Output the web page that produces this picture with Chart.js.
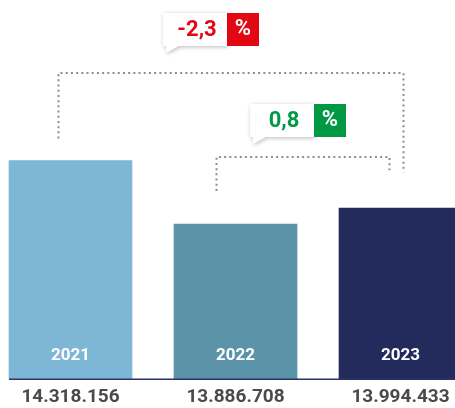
<!DOCTYPE html>
<html>
<head>
<meta charset="utf-8">
<script src="https://cdn.jsdelivr.net/npm/chart.js@4.4.0/dist/chart.umd.min.js"></script>
<style>
  html, body { margin: 0; padding: 0; background: #fff; overflow: hidden; width: 455px; height: 408px; }
  #chart { position: absolute; left: -12px; top: 0; }
</style>
</head>
<body>
<canvas id="chart" width="495" height="416"></canvas>
<script>
const years = ['2021', '2022', '2023']
const values = [14318156, 13886708, 13994433]
const valueLabels = ['14.318.156', '13.886.708', '13.994.433']
const barColors = ['#7EB6D6', '#5B93A8', '#222B5C']

// changes shown on top: [from bar, to bar, text, colour]
const changes = [
    { from: 0, to: 2, text: '-2,3', color: '#E30613' },
    { from: 1, to: 2, text: '0,8', color: '#009A44' }
]

const fontFamily = 'Roboto, "Liberation Sans", sans-serif'

const overlay = {
    id: 'overlay',
    afterDatasetsDraw(chart) {
        const ctx = chart.ctx
        const bars = chart.getDatasetMeta(0).data
        const bottom = chart.chartArea.bottom

        // base line
        ctx.save()
        ctx.strokeStyle = '#2A3566'
        ctx.lineWidth = 1.5
        ctx.beginPath()
        ctx.moveTo(bars[0].x - bars[0].width / 2, bottom)
        ctx.lineTo(chart.width, bottom)
        ctx.stroke()

        // years inside the bars
        ctx.fillStyle = '#fff'
        ctx.font = 'bold 17px ' + fontFamily
        ctx.textAlign = 'center'
        ctx.textBaseline = 'middle'
        bars.forEach((bar, i) => {
            ctx.fillText(years[i], bar.x, bottom - 23)
        })

        // dotted brackets
        ctx.strokeStyle = '#8c8c8c'
        ctx.lineWidth = 2
        ctx.setLineDash([2, 3.2])
        const brackets = [
            { x1: bars[0].x - 12, y1: bars[0].y - 22, x2: bars[2].x + 3, y2: bars[2].y - 36, top: 73 },
            { x1: bars[1].x - 19, y1: bars[1].y - 33, x2: bars[2].x - 11, y2: bars[2].y - 38, top: 157 }
        ]
        brackets.forEach(b => {
            ctx.beginPath()
            ctx.moveTo(b.x1, b.y1)
            ctx.lineTo(b.x1, b.top)
            ctx.lineTo(b.x2, b.top)
            ctx.lineTo(b.x2, b.y2)
            ctx.stroke()
        })
        ctx.setLineDash([])

        // change labels
        const boxes = [
            { left: 175, top: 13 },
            { left: 262, top: 104 }
        ]
        changes.forEach((c, i) => {
            const b = boxes[i]
            const w = 64, pw = 32, h = 33
            ctx.save()
            ctx.shadowColor = 'rgba(0,0,0,0.28)'
            ctx.shadowBlur = 4
            ctx.shadowOffsetX = 1
            ctx.shadowOffsetY = 1
            ctx.fillStyle = '#fff'
            ctx.beginPath()
            ctx.moveTo(b.left, b.top)
            ctx.lineTo(b.left + w, b.top)
            ctx.lineTo(b.left + w, b.top + h)
            ctx.lineTo(b.left + 16, b.top + h)
            ctx.lineTo(b.left + 3, b.top + h + 7)
            ctx.lineTo(b.left + 3, b.top + h)
            ctx.lineTo(b.left, b.top + h)
            ctx.closePath()
            ctx.fill()
            ctx.restore()
            ctx.fillStyle = c.color
            ctx.fillRect(b.left + w, b.top, pw, h)
            ctx.font = 'bold 22px ' + fontFamily
            ctx.textAlign = 'center'
            ctx.textBaseline = 'middle'
            ctx.fillText(c.text, b.left + w / 2 + 2, b.top + h / 2 + 1)
            ctx.fillStyle = '#fff'
            ctx.fillText('%', b.left + w + pw / 2, b.top + h / 2)
        })
        ctx.restore()
    }
}

new Chart(document.getElementById('chart'), {
    type: 'bar',
    data: {
        labels: years,
        datasets: [{
            data: values,
            backgroundColor: barColors,
            barThickness: 123
        }]
    },
    options: {
        responsive: false,
        animation: false,
        layout: { padding: { top: 20, left: 0, right: 0, bottom: 0 } },
        plugins: {
            legend: { display: false },
            tooltip: { enabled: false }
        },
        scales: {
            x: {
                grid: { display: false, drawTicks: false },
                border: { display: false },
                ticks: {
                    padding: 7,
                    color: '#4a4a4a',
                    font: { family: fontFamily, size: 19, weight: 'bold' },
                    callback: (v, i) => valueLabels[i]
                }
            },
            y: {
                display: false,
                min: 12830000,
                max: 15275000
            }
        }
    },
    plugins: [overlay]
})
</script>
</body>
</html>
